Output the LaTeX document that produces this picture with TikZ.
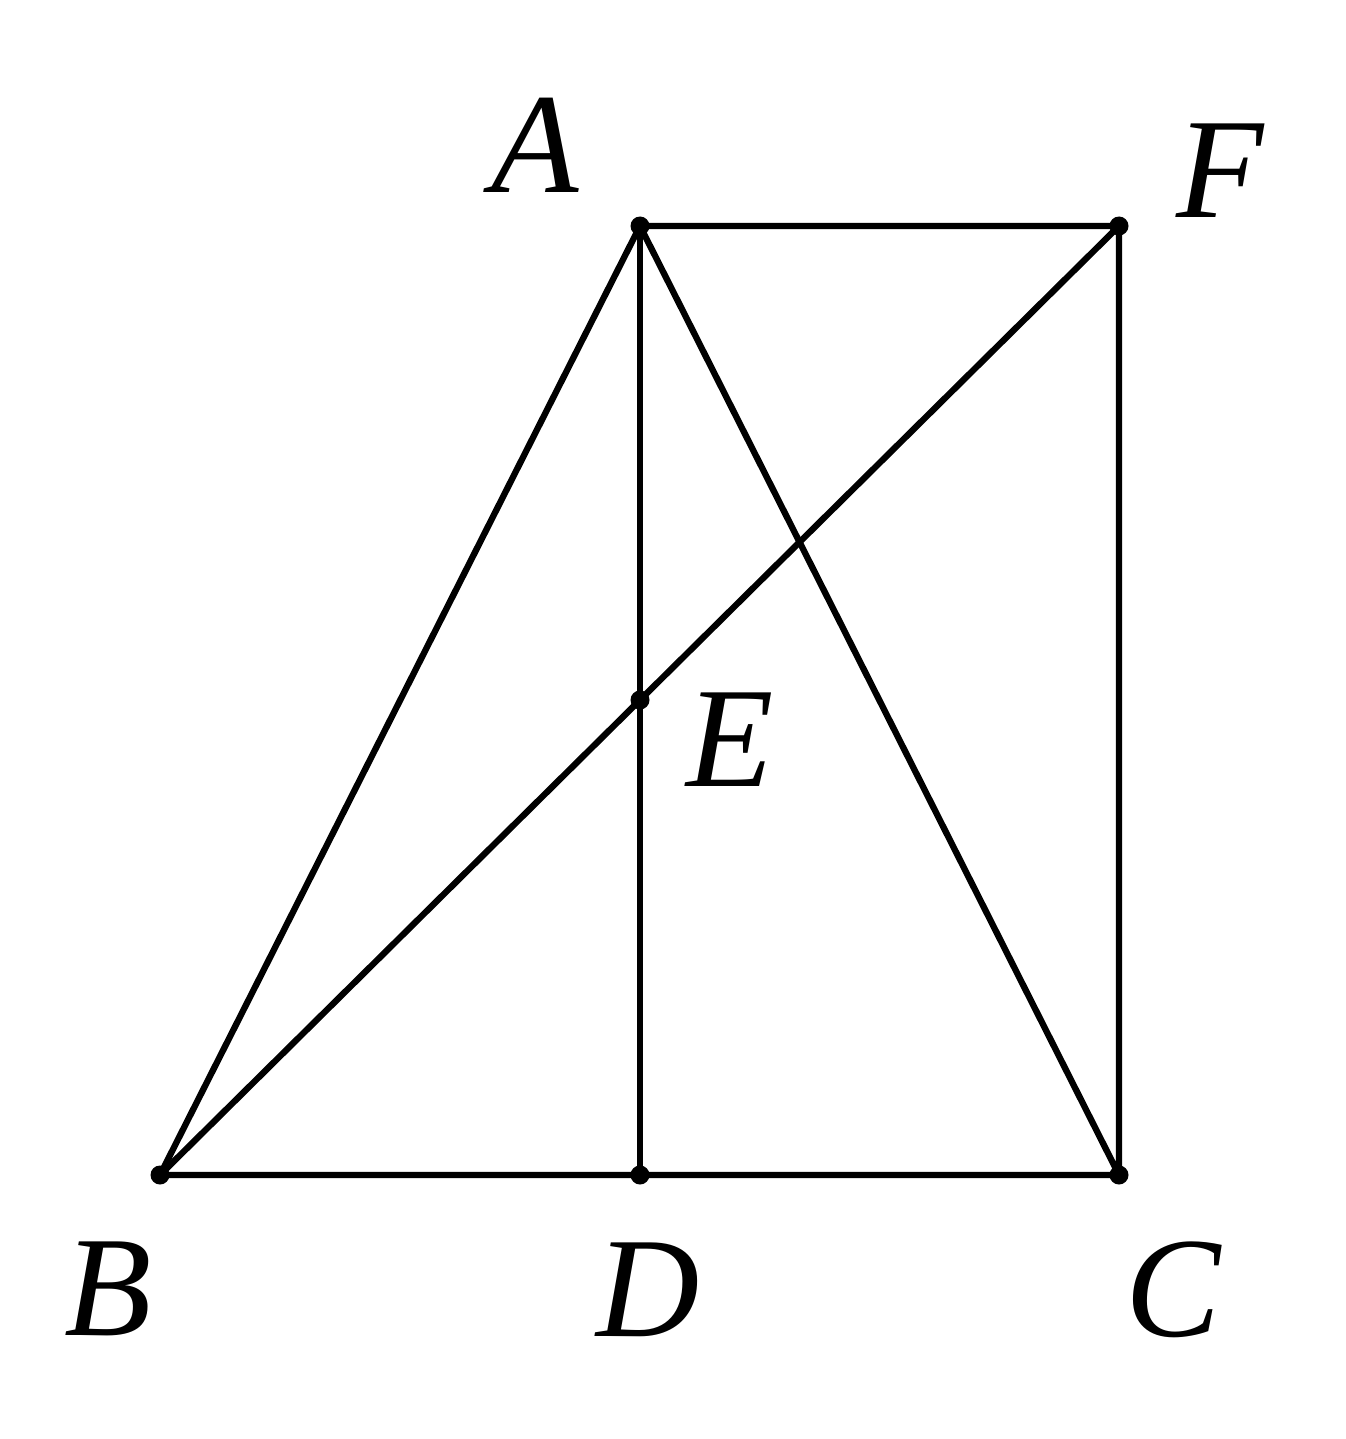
\documentclass[tikz,border=0pt]{standalone}
\usepackage{fontspec}
\setmainfont{Liberation Serif}
\begin{document}
\begin{tikzpicture}[x=1pt,y=-1pt,line width=6.3pt,
  pt/.style={circle,fill=black,inner sep=0pt,minimum size=19pt},
  lbl/.style={inner sep=0pt,font=\fontsize{143}{170}\selectfont\itshape}]
\useasboundingbox (0,0) rectangle (1345,1439);
\node[pt] (A) at (640,226) {};
\node[pt] (F) at (1119,226) {};
\node[pt] (B) at (160,1175) {};
\node[pt] (D) at (640,1175) {};
\node[pt] (C) at (1119,1175) {};
\node[pt] (E) at (640,700) {};
\draw (A.center) -- (F.center) -- (C.center) -- (B.center) -- (A.center) -- (C.center);
\draw (A.center) -- (D.center);
\draw (B.center) -- (F.center);
\node[lbl] (lA) at (535,145) {A};
\node[lbl] (lF) at (1220,171) {F};
\node[lbl] (lB) at (108,1289) {B};
\node[lbl] (lD) at (648,1290) {D};
\node[lbl] (lC) at (1173,1290) {C};
\node[lbl] (lE) at (730,740) {E};
\end{tikzpicture}
\end{document}
